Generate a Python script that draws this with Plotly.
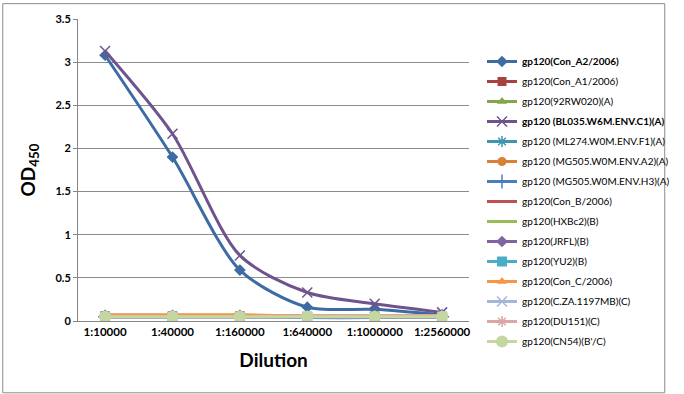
import plotly.graph_objects as go

dilutions = ["1:10000", "1:40000", "1:160000", "1:640000", "1:1000000", "1:2560000"]

names = [
    "<b>gp120(Con_A2/2006)</b>",
    "gp120(Con_A1/2006)",
    "gp120(92RW020)(A)",
    "<b>gp120 (BL035.W6M.ENV.C1)(A)</b>",
    "gp120 (ML274.W0M.ENV.F1)(A)",
    "gp120 (MG505.W0M.ENV.A2)(A)",
    "gp120 (MG505.W0M.ENV.H3)(A)",
    "gp120(Con_B/2006)",
    "gp120(HXBc2)(B)",
    "gp120(JRFL)(B)",
    "gp120(YU2)(B)",
    "gp120(Con_C/2006)",
    "gp120(C.ZA.1197MB)(C)",
    "gp120(DU151)(C)",
    "gp120(CN54)(B'/C)",
]

con_a2 = [3.08, 1.90, 0.59, 0.16, 0.135, 0.07]
con_a1 = [0.06, 0.06, 0.06, 0.05, 0.05, 0.05]
rw020 = [0.05, 0.05, 0.06, 0.06, 0.06, 0.06]
bl035 = [3.13, 2.17, 0.76, 0.33, 0.20, 0.10]
ml274 = [0.05, 0.05, 0.05, 0.05, 0.05, 0.05]
mg505_a2 = [0.07, 0.07, 0.07, 0.06, 0.06, 0.06]
mg505_h3 = [0.05, 0.05, 0.05, 0.04, 0.04, 0.05]
con_b = [0.06, 0.06, 0.05, 0.05, 0.05, 0.05]
hxbc2 = [0.05, 0.05, 0.06, 0.06, 0.06, 0.06]
jrfl = [0.05, 0.05, 0.05, 0.05, 0.05, 0.05]
yu2 = [0.05, 0.05, 0.05, 0.05, 0.05, 0.05]
con_c = [0.07, 0.07, 0.07, 0.06, 0.06, 0.06]
cza = [0.05, 0.05, 0.05, 0.05, 0.05, 0.05]
du151 = [0.05, 0.05, 0.05, 0.06, 0.06, 0.06]
cn54 = [0.05, 0.05, 0.05, 0.05, 0.05, 0.05]

series = [con_a2, con_a1, rw020, bl035, ml274, mg505_a2, mg505_h3, con_b,
          hxbc2, jrfl, yu2, con_c, cza, du151, cn54]

colors = ["#3D6CA4", "#A8423F", "#86A44A", "#6E548D", "#3D96AE", "#DA8137",
          "#4A7EBB", "#C0504D", "#9BBB59", "#8064A2", "#4BACC6", "#F79646",
          "#A5B6D9", "#DBA6A5", "#C4D7A0"]
symbols = ["diamond", "square", "triangle-up", "x-thin", "asterisk", "circle",
           "cross-thin", "line-ew", "line-ew", "diamond", "square", "triangle-up",
           "x-thin", "asterisk", "circle"]
sizes = [9, 9, 9, 10, 9, 9, 10, 8, 8, 9, 10, 9, 10, 9, 12]

fig = go.Figure()
for i, (nm, ys, c, s, sz) in enumerate(zip(names, series, colors, symbols, sizes)):
    thin = s.endswith("thin") or s in ("asterisk", "line-ew")
    fig.add_trace(go.Scatter(
        x=dilutions, y=ys, name=nm, mode="lines+markers", legendgroup=f"g{i:02d}",
        line=dict(color=c, width=3, shape="spline", smoothing=0.8),
        marker=dict(symbol=s, size=sz, color=c,
                    line=dict(color=c, width=1.5 if thin else 0)),
    ))

# outer chart border
fig.add_shape(type="rect", xref="paper", yref="paper",
              x0=-77.5/403, x1=(682.5-78)/403, y0=-(393.5-321)/305, y1=(321-0.5)/305,
              line=dict(color="#8C8C8C", width=1), fillcolor="rgba(0,0,0,0)",
              layer="below")

fig.update_layout(
    width=684, height=394,
    margin=dict(l=78, r=203, t=16, b=73),
    paper_bgcolor="white", plot_bgcolor="white",
    font=dict(family="Lato, Liberation Sans, sans-serif", color="black"),
    showlegend=True,
    legend=dict(xref="container", yref="container",
                x=482/684, y=1 - 47/394, xanchor="left", yanchor="top",
                font=dict(size=10, family="Lato, Liberation Sans, sans-serif"),
                tracegroupgap=1, itemwidth=30, bgcolor="rgba(0,0,0,0)",
                traceorder="grouped", maxheight=350),
    xaxis=dict(
        title=dict(text="<b>Dilution</b>", font=dict(size=19), standoff=16),
        tickfont=dict(size=11.5, weight="bold"),
        showline=True, linecolor="#868686", linewidth=1,
        ticks="", showgrid=False, zeroline=False,
    ),
    yaxis=dict(
        title=dict(text="<b>OD<sub>450</sub></b>", font=dict(size=19), standoff=14),
        range=[0, 3.5], dtick=0.5,
        tickfont=dict(size=11, weight="bold"),
        showline=True, linecolor="#868686", linewidth=1,
        showgrid=True, gridcolor="#8C8C8C", gridwidth=1,
        ticks="outside", ticklen=4, tickcolor="#868686",
        zeroline=False,
    ),
)

fig.write_html("out.html", config={"displayModeBar": False},
               post_script="document.body.style.margin='0';document.body.style.padding='0';")
